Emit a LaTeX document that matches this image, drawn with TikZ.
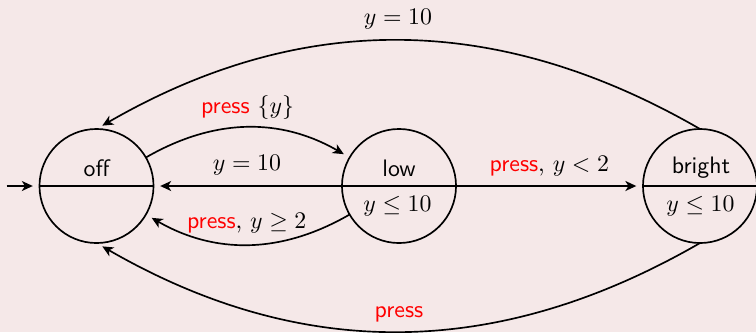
\documentclass[tikz,border=0pt]{standalone}
\usetikzlibrary{arrows.meta}
\definecolor{bg}{RGB}{245,232,232}
\definecolor{lbl}{RGB}{255,0,0}
\begin{document}
\begin{tikzpicture}[x=0.42pt,y=-0.42pt,
  state/.style={draw,circle,line width=0.7pt,minimum size=47.9pt,inner sep=0pt,outer sep=0pt},
  edge/.style={line width=0.7pt,-{Stealth[length=4.6pt,width=4.2pt,inset=1.3pt]},shorten >=2.8pt},
  txt/.style={anchor=base,inner sep=0pt,font=\sffamily},
  lab/.style={anchor=base,inner sep=0pt}]
\fill[bg] (0,0) rectangle (756,332);
\useasboundingbox (0,0) rectangle (756,332);

\node[state] (off) at (96.5,186) {};
\node[state] (low) at (399,186) {};
\node[state] (bright) at (700,186) {};

\draw[line width=0.7pt] (off.west) -- (off.east);
\draw[line width=0.7pt] (low.west) -- (low.east);
\draw[line width=0.7pt] (bright.west) -- (bright.east);

\node[txt] (toff) at (96.5,176.7) {off};
\node[txt] (tlow) at (399,176.7) {low};
\node[txt] (tbright) at (701,173) {bright};
\node[lab] (ilow) at (397.5,211.7) {$y\leq 10$};
\node[lab] (ibright) at (700.5,211.7) {$y\leq 10$};

\coordinate (init) at (6.5,186);
\draw[edge] (init) -- (off);

\draw[edge] (off) to[bend left=30] (low);
\draw[edge] (low) -- (off);
\draw[edge] (low) to[bend left=30] (off);
\draw[edge] (low) -- (bright);
\draw[edge] (bright.north) to[bend right=30] (off.north);
\draw[edge] (bright.south) to[bend left=30] (off.south);

\node[lab] (l1) at (247.5,113.3) {\textcolor{lbl}{\sffamily press} $\{y\}$};
\node[lab] (l2) at (247,170.7) {$y=10$};
\node[lab] (l3) at (246.7,228.3) {\textcolor{lbl}{\sffamily press}, $y\geq 2$};
\node[lab] (l4) at (549.3,171.7) {\textcolor{lbl}{\sffamily press}, $y<2$};
\node[lab] (l5) at (398,24) {$y=10$};
\node[lab] (l6) at (399,317) {\textcolor{lbl}{\sffamily press}};
\end{tikzpicture}
\end{document}
